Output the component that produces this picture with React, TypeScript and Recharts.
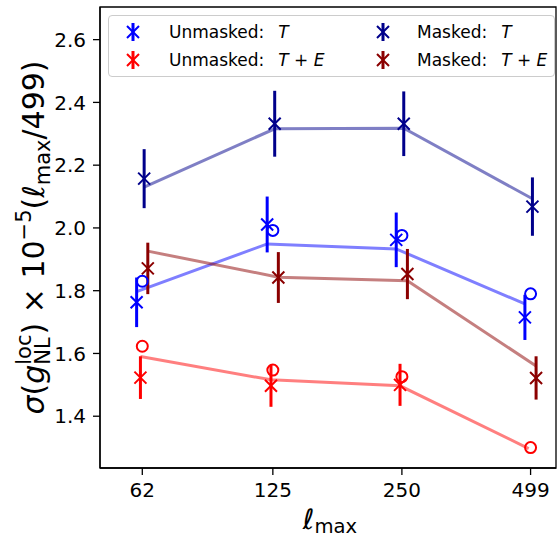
import React from "react";
import { ComposedChart, Line, Scatter, ErrorBar, XAxis, YAxis, Legend, ReferenceArea } from "recharts";

const ellMax = [62, 125, 250, 499];

// Unmasked, T only
const unmaskedT = [1.763, 2.011, 1.962, 1.715];
const unmaskedTErr = [0.079, 0.089, 0.087, 0.072];
const unmaskedTAlt = [1.83, 1.992, 1.976, 1.79];
const unmaskedTFit = [1.797, 1.949, 1.933, 1.758];

// Unmasked, T+E (no measurement at 499)
const unmaskedTE = [1.523, 1.497, 1.5, null];
const unmaskedTEErr = [0.068, 0.067, 0.067, null];
const unmaskedTEAlt = [1.623, 1.547, 1.526, 1.3];
const unmaskedTEFit = [1.59, 1.516, 1.497, 1.297];

// Masked, T only
const maskedT = [2.157, 2.332, 2.332, 2.068];
const maskedTErr = [0.094, 0.105, 0.103, 0.093];
const maskedTFit = [2.13, 2.316, 2.318, 2.093];

// Masked, T+E
const maskedTE = [1.871, 1.842, 1.853, 1.522];
const maskedTEErr = [0.082, 0.081, 0.08, 0.069];
const maskedTEFit = [1.926, 1.843, 1.832, 1.56];

const yTicks = [1.4, 1.6, 1.8, 2.0, 2.2, 2.4, 2.6];
const xDomain = [49.4, 572];
const yDomain = [1.235, 2.704];

const BLUE = "#0000ff";
const RED = "#ff0000";
const NAVY = "#00008b";
const DARKRED = "#8b0000";
const FONT = "DejaVu Sans";

// small multiplicative nudges so the four series don't sit on top of each other
const SHIFT_UT = 0.97;
const SHIFT_UTE = 0.99;
const SHIFT_MT = 1.01;
const SHIFT_MTE = 1.03;

type Pt = { x: number; y: number; err?: number };

const toPts = (ys: (number | null)[], shift: number, errs?: (number | null)[]): Pt[] =>
  ellMax
    .map((x, i) => ({ x: x * shift, y: ys[i] as number, err: errs ? (errs[i] as number) : undefined }))
    .filter((d) => d.y != null);

const crossShape = (color: string) => (props: any) => {
  const { cx, cy } = props;
  const s = 6;
  return (
    <path
      d={`M${cx - s},${cy - s}L${cx + s},${cy + s}M${cx - s},${cy + s}L${cx + s},${cy - s}`}
      stroke={color}
      strokeWidth={2}
      fill="none"
    />
  );
};

const ringShape = (color: string) => (props: any) => (
  <circle cx={props.cx} cy={props.cy} r={5.5} fill="none" stroke={color} strokeWidth={2} />
);

const legendItems = [
  { label: "Unmasked:", math: "T", color: BLUE, col: 0, row: 0 },
  { label: "Unmasked:", math: "T + E", color: RED, col: 0, row: 1 },
  { label: "Masked:", math: "T", color: NAVY, col: 1, row: 0 },
  { label: "Masked:", math: "T + E", color: DARKRED, col: 1, row: 1 },
];

const LegendBox = () => (
  <div
    style={{
      width: 447,
      height: 62,
      boxSizing: "border-box",
      border: "1.3px solid #cccccc",
      borderRadius: 4,
      background: "rgba(255,255,255,0.8)",
    }}
  >
    <svg width={445} height={60} style={{ display: "block" }}>
      {legendItems.map((it) => {
        const mx = it.col === 0 ? 24 : 274;
        const tx = it.col === 0 ? 60 : 308;
        const cy = it.row === 0 ? 16 : 44;
        return (
          <g key={it.label + it.math}>
            <line x1={mx} x2={mx} y1={cy - 9} y2={cy + 9} stroke={it.color} strokeWidth={3} />
            <path
              d={`M${mx - 6},${cy - 6}L${mx + 6},${cy + 6}M${mx - 6},${cy + 6}L${mx + 6},${cy - 6}`}
              stroke={it.color}
              strokeWidth={2}
            />
            <text x={tx} y={cy + 5.5} fontFamily={FONT} fontSize={17} fill="#000">
              {it.label}
              <tspan fontStyle="italic" dx={14}>
                {it.math}
              </tspan>
            </text>
          </g>
        );
      })}
    </svg>
  </div>
);

const XLabel = (props: any) => {
  const { x, y, width, height } = props.viewBox;
  const F = 28;
  return (
    <text x={x + width / 2 + 2} y={y + height - 10} textAnchor="middle" fontFamily={FONT} fontSize={F} fill="#000">
      <tspan fontStyle="italic">ℓ</tspan>
      <tspan fontSize={F * 0.7} dy={4}>
        max
      </tspan>
    </text>
  );
};

const YLabel = (props: any) => {
  const { x, y, height } = props.viewBox;
  const F = 30;
  const s = F * 0.7;
  const bx = x + 44;
  const cy = y + height / 2;
  const sub = F * 0.2;
  const sup = F * 0.42;
  const nlWidth = s * (0.748 + 0.557);
  return (
    <text
      x={bx}
      y={cy}
      transform={`rotate(-90, ${bx}, ${cy})`}
      textAnchor="middle"
      fontFamily={FONT}
      fontSize={F}
      fill="#000"
    >
      <tspan fontStyle="italic">σ</tspan>
      <tspan>(</tspan>
      <tspan fontStyle="italic">g</tspan>
      <tspan fontSize={s} dy={sub}>
        NL
      </tspan>
      <tspan fontSize={s} dx={-nlWidth} dy={-sub - sup}>
        loc
      </tspan>
      <tspan dy={sup}>) × 10</tspan>
      <tspan fontSize={s} dy={-sup}>
        −5
      </tspan>
      <tspan dy={sup}>(</tspan>
      <tspan fontStyle="italic">ℓ</tspan>
      <tspan fontSize={s} dy={sub}>
        max
      </tspan>
      <tspan dy={-sub}>/499)</tspan>
    </text>
  );
};

export default function App() {
  const tick = { fill: "#000", fontSize: 20, fontFamily: FONT };
  return (
    <div style={{ position: "absolute", left: 0, top: 0, background: "#fff" }}>
      <ComposedChart width={560} height={539} margin={{ top: 7, right: 4, bottom: 0, left: 0 }}>
        <XAxis
          dataKey="x"
          type="number"
          scale="log"
          domain={xDomain}
          allowDataOverflow
          ticks={ellMax}
          interval={0}
          tickFormatter={(v: number) => String(v)}
          height={71}
          stroke="#000"
          axisLine={{ strokeWidth: 1.3 }}
          tickLine={{ strokeWidth: 1.3 }}
          tickSize={7}
          tickMargin={8}
          tick={tick}
          label={<XLabel />}
        />
        <YAxis
          dataKey="y"
          type="number"
          domain={yDomain}
          allowDataOverflow
          ticks={yTicks}
          interval={0}
          tickFormatter={(v: number) => v.toFixed(1)}
          width={100}
          stroke="#000"
          axisLine={{ strokeWidth: 1.3 }}
          tickLine={{ strokeWidth: 1.3 }}
          tickSize={7}
          tickMargin={7}
          tick={tick}
          label={<YLabel />}
        />

        {/* frame around the plot area (top and right spines) */}
        <ReferenceArea
          x1={xDomain[0]}
          x2={xDomain[1]}
          y1={yDomain[0]}
          y2={yDomain[1]}
          fill="none"
          stroke="#000"
          strokeWidth={1.3}
          ifOverflow="visible"
        />

        <Line data={toPts(maskedTFit, SHIFT_MT)} dataKey="y" stroke={NAVY} strokeOpacity={0.5} strokeWidth={3} dot={false} activeDot={false} isAnimationActive={false} />
        <Line data={toPts(unmaskedTFit, SHIFT_UT)} dataKey="y" stroke={BLUE} strokeOpacity={0.5} strokeWidth={3} dot={false} activeDot={false} isAnimationActive={false} />
        <Line data={toPts(maskedTEFit, SHIFT_MTE)} dataKey="y" stroke={DARKRED} strokeOpacity={0.5} strokeWidth={3} dot={false} activeDot={false} isAnimationActive={false} />
        <Line data={toPts(unmaskedTEFit, SHIFT_UTE)} dataKey="y" stroke={RED} strokeOpacity={0.5} strokeWidth={3} dot={false} activeDot={false} isAnimationActive={false} />

        <Scatter data={toPts(unmaskedTAlt, 1)} dataKey="y" shape={ringShape(BLUE)} isAnimationActive={false} />
        <Scatter data={toPts(unmaskedTEAlt, 1)} dataKey="y" shape={ringShape(RED)} isAnimationActive={false} />

        <Scatter data={toPts(unmaskedT, SHIFT_UT, unmaskedTErr)} dataKey="y" shape={crossShape(BLUE)} isAnimationActive={false}>
          <ErrorBar dataKey="err" direction="y" width={0} stroke={BLUE} strokeWidth={3} isAnimationActive={false} />
        </Scatter>
        <Scatter data={toPts(unmaskedTE, SHIFT_UTE, unmaskedTEErr)} dataKey="y" shape={crossShape(RED)} isAnimationActive={false}>
          <ErrorBar dataKey="err" direction="y" width={0} stroke={RED} strokeWidth={3} isAnimationActive={false} />
        </Scatter>
        <Scatter data={toPts(maskedT, SHIFT_MT, maskedTErr)} dataKey="y" shape={crossShape(NAVY)} isAnimationActive={false}>
          <ErrorBar dataKey="err" direction="y" width={0} stroke={NAVY} strokeWidth={3} isAnimationActive={false} />
        </Scatter>
        <Scatter data={toPts(maskedTE, SHIFT_MTE, maskedTEErr)} dataKey="y" shape={crossShape(DARKRED)} isAnimationActive={false}>
          <ErrorBar dataKey="err" direction="y" width={0} stroke={DARKRED} strokeWidth={3} isAnimationActive={false} />
        </Scatter>

        <Legend
          layout="horizontal"
          verticalAlign="middle"
          align="center"
          content={() => <LegendBox />}
          wrapperStyle={{ left: 108, top: 15, width: 447, height: 62 }}
        />
      </ComposedChart>
    </div>
  );
}
